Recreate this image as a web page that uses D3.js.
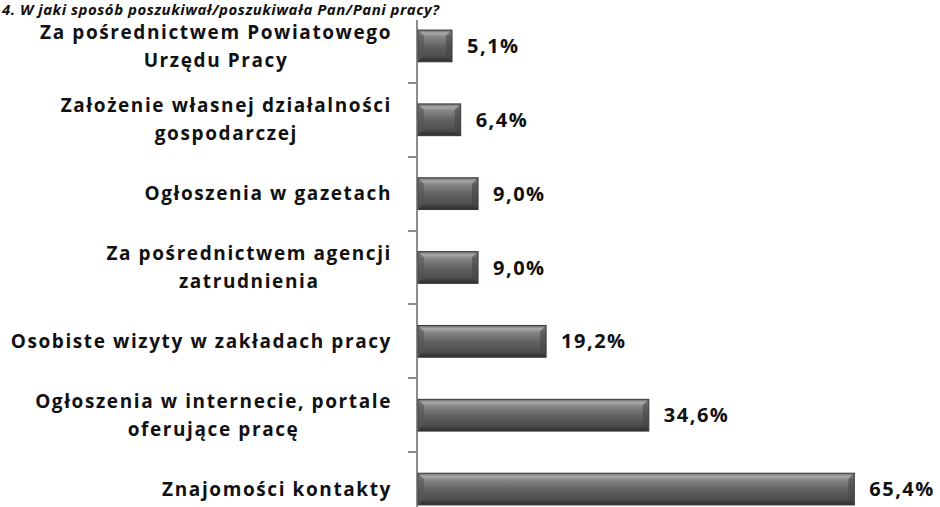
<!DOCTYPE html>
<head>
  <meta charset="utf-8">
  <script src="https://d3js.org/d3.v7.min.js"></script>
  <style>
    body { margin:0; background:#fff; }
    text { font-family: "Open Sans", Lato, sans-serif; font-weight: bold; fill: #111; }
  </style>
</head>
<body>
  <svg width="940" height="507"></svg>
  <script>
    var title = "4. W jaki sposób poszukiwał/poszukiwała Pan/Pani pracy?";

    var categories = [
      ["Za pośrednictwem Powiatowego", "Urzędu Pracy"],
      ["Założenie własnej działalności", "gospodarczej"],
      ["Ogłoszenia w gazetach"],
      ["Za pośrednictwem agencji", "zatrudnienia"],
      ["Osobiste wizyty w zakładach pracy"],
      ["Ogłoszenia w internecie, portale", "oferujące pracę"],
      ["Znajomości kontakty"]
    ];
    var values = [5.1, 6.4, 9.0, 9.0, 19.2, 34.6, 65.4];
    var valueLabels = ["5,1%", "6,4%", "9,0%", "9,0%", "19,2%", "34,6%", "65,4%"];

    var svg = d3.select("svg");
    var x0 = 418;

    var keys = categories.map(function(d) { return d.join(" "); });

    var x = d3.scaleLinear().domain([0, 70]).range([x0, x0 + 467]);
    var y = d3.scaleBand().domain(keys).range([9, 526])
      .paddingInner(0.57).paddingOuter(0.285);

    var defs = svg.append("defs");
    var grad = defs.append("linearGradient").attr("id", "bevel")
      .attr("x1", 0).attr("y1", 0).attr("x2", 0).attr("y2", 1);
    [[0, "#6a6a6a"], [0.1, "#a8a8a8"], [0.22, "#858585"], [0.5, "#626262"], [0.82, "#4e4e4e"], [0.9, "#3c3c3c"], [1, "#2e2e2e"]]
      .forEach(function(s) { grad.append("stop").attr("offset", s[0]).attr("stop-color", s[1]); });

    // title at the top edge
    svg.append("text")
      .attr("x", 2).attr("y", 15)
      .style("font-style", "italic")
      .style("font-size", "15px")
      .style("letter-spacing", "0.5px")
      .text(title);

    // axis line and ticks between categories
    var step = y.step();
    var axis = svg.append("g").attr("stroke", "#8c8c8c").attr("stroke-width", 2);
    axis.append("line").attr("x1", x0 - 1).attr("x2", x0 - 1).attr("y1", 20).attr("y2", 507);
    keys.slice(1).forEach(function(k) {
      var yy = y(k) - step * y.paddingInner() / 2;
      axis.append("line").attr("x1", x0 - 10).attr("x2", x0 - 1)
        .attr("y1", Math.round(yy)).attr("y2", Math.round(yy));
    });

    // bars
    var bars = svg.selectAll(".bar").data(values).enter().append("g").attr("class", "bar");
    bars.append("rect")
      .attr("x", x0)
      .attr("y", function(d, i) { return y(keys[i]); })
      .attr("width", function(d) { return x(d) - x0; })
      .attr("height", y.bandwidth())
      .attr("fill", "url(#bevel)")
      .attr("stroke", "#3a3a3a")
      .attr("stroke-width", 1);
    // side bevels
    bars.append("path")
      .attr("d", function(d, i) {
        var t = y(keys[i]), b = t + y.bandwidth(), e = 6;
        return "M" + x0 + "," + t + "L" + (x0 + e) + "," + (t + e) + "L" + (x0 + e) + "," + (b - e) + "L" + x0 + "," + b + "Z";
      })
      .attr("fill", "#555").attr("opacity", 0.6);
    bars.append("path")
      .attr("d", function(d, i) {
        var t = y(keys[i]), b = t + y.bandwidth(), r = x(d), e = 6;
        return "M" + r + "," + t + "L" + (r - e) + "," + (t + e) + "L" + (r - e) + "," + (b - e) + "L" + r + "," + b + "Z";
      })
      .attr("fill", "#444").attr("opacity", 0.6);

    // value labels
    svg.selectAll(".val").data(values).enter().append("text")
      .attr("class", "val")
      .attr("x", function(d) { return x(d) + 15; })
      .attr("y", function(d, i) { return y(keys[i]) + y.bandwidth() / 2; })
      .attr("dy", "0.35em")
      .style("font-size", "20px")
      .style("letter-spacing", "1.5px")
      .text(function(d, i) { return valueLabels[i]; });

    // category labels: block right-aligned, lines centred in the block
    var labelRight = 392, lineH = 28;
    categories.forEach(function(lines, i) {
      var cy = y(keys[i]) + y.bandwidth() / 2;
      var g = svg.append("g");
      var ts = lines.map(function(l, j) {
        return g.append("text")
          .attr("y", cy + (j - (lines.length - 1) / 2) * lineH)
          .attr("dy", "0.35em")
          .attr("text-anchor", "middle")
          .style("font-size", "19px")
          .style("letter-spacing", "1.6px")
          .text(l);
      });
      var w = d3.max(ts, function(t) { return t.node().getComputedTextLength(); });
      ts.forEach(function(t) { t.attr("x", labelRight - w / 2); });
    });
  </script>
</body>
